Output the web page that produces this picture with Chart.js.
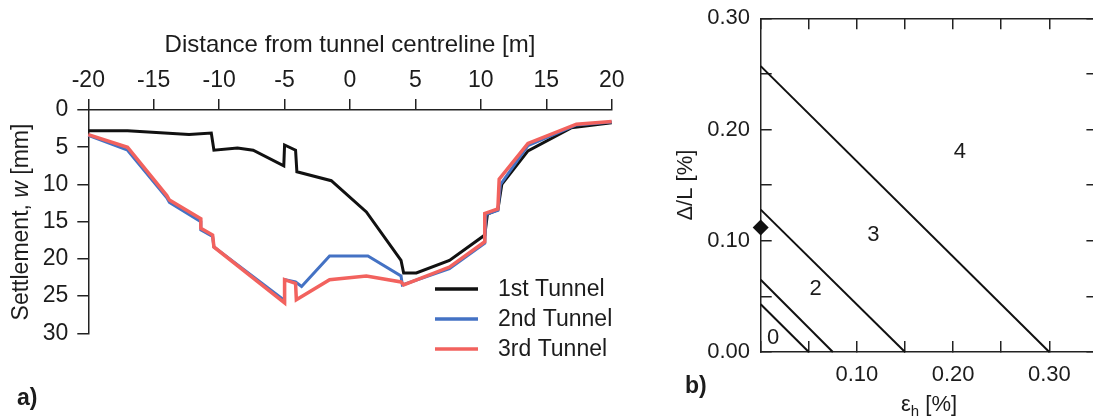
<!DOCTYPE html>
<html>
<head>
<meta charset="utf-8">
<script src="https://cdn.jsdelivr.net/npm/chart.js@4.4.0/dist/chart.umd.min.js"></script>
<style>
    html, body { margin: 0; padding: 0; background: #fff; overflow: hidden; }
    #panelA { position: absolute; left: 0; top: 0; width: 650px; height: 420px; }
    #panelB { position: absolute; left: 650px; top: 0; width: 460px; height: 420px; }
</style>
</head>
<body>
<div id="panelA"><canvas id="chartA" width="650" height="420"></canvas></div>
<div id="panelB"><canvas id="chartB" width="460" height="420"></canvas></div>
<script>
// a) settlement troughs
const seriesNames = ['1st Tunnel', '2nd Tunnel', '3rd Tunnel'];

const firstX = [-20, -17, -12.3, -10.6, -10.4, -8.6, -7.4, -5.06, -5.0, -4.16, -4.06, -1.43, 1.25, 3.9, 4.1, 5.07, 7.6, 10.3, 10.5, 11.3, 11.6, 13.6, 16.9, 20];
const firstY = [2.8, 2.8, 3.3, 3.1, 5.4, 5.1, 5.4, 7.5, 4.7, 5.4, 8.3, 9.5, 13.7, 20.2, 21.9, 21.9, 20.2, 16.8, 14.0, 13.4, 10.0, 5.5, 2.4, 1.7];

const secondX = [-20, -17, -14.0, -13.8, -11.4, -11.4, -10.5, -10.4, -5.0, -5.0, -4.16, -3.7, -1.56, 1.37, 3.9, 4.0, 7.6, 10.3, 10.4, 11.3, 11.5, 13.6, 17.3, 20];
const secondY = [3.4, 5.4, 11.8, 12.4, 15.0, 16.1, 17.0, 18.4, 25.6, 22.8, 23.1, 23.7, 19.6, 19.6, 22.3, 23.5, 21.3, 17.9, 14.0, 13.5, 10.0, 4.8, 2.0, 1.6];

const thirdX = [-20, -17, -14.0, -13.8, -11.4, -11.4, -10.5, -10.4, -5.0, -5.0, -4.16, -4.1, -1.56, 1.25, 3.9, 4.1, 7.6, 10.3, 10.3, 11.3, 11.4, 13.6, 17.3, 20];
const thirdY = [3.3, 5.0, 11.5, 12.1, 14.6, 15.9, 16.8, 18.4, 25.9, 22.8, 23.3, 25.5, 22.8, 22.3, 23.1, 23.5, 21.1, 17.7, 13.9, 13.3, 9.3, 4.5, 1.9, 1.55];

const distanceTicks = [-20, -15, -10, -5, 0, 5, 10, 15, 20];
const settlementTicks = [0, 5, 10, 15, 20, 25, 30];

// b) damage category chart
const boundaryStart = [0.043, 0.065, 0.128, 0.257];   // delta/L at eps_h = 0
const boundaryEnd = [0.05, 0.075, 0.15, 0.30];         // eps_h at delta/L = 0
const categoryNames = ['0', '2', '3', '4'];
const categoryX = [0.0128, 0.057, 0.117, 0.207];
const categoryY = [0.013, 0.057, 0.105, 0.18];
const buildingPoint = [{ x: 0, y: 0.112 }];

const FONT = "'Liberation Sans', Arial, sans-serif";
const INK = '#1c1c1c';
const AXIS = '#222';

function toPoints(xs, ys) {
    return xs.map((x, i) => ({ x: x, y: ys[i] }));
}

// fixed axis size, and no extra padding from tick labels
function fixSize(prop, size) {
    return s => {
        s[prop] = size;
        s.paddingTop = s.paddingBottom = s.paddingLeft = s.paddingRight = 0;
    };
}

const legendPlugin = {
    id: 'troughLegend',
    afterDraw(chart) {
        const ctx = chart.ctx;
        ctx.save();
        ctx.font = '23px ' + FONT;
        ctx.textBaseline = 'middle';
        chart.data.datasets.forEach((ds, i) => {
            const y = 289 + i * 30;
            ctx.strokeStyle = ds.borderColor;
            ctx.lineWidth = 3.5;
            ctx.beginPath();
            ctx.moveTo(435, y);
            ctx.lineTo(478, y);
            ctx.stroke();
            ctx.fillStyle = INK;
            ctx.fillText(ds.label, 498, y + 1);
        });

        // y title with italic w
        const parts = [['Settlement, ', ''], ['w', 'italic '], [' [mm]', '']];
        ctx.translate(22, 222);
        ctx.rotate(-Math.PI / 2);
        let total = 0;
        parts.forEach(p => { ctx.font = p[1] + '23px ' + FONT; total += ctx.measureText(p[0]).width; });
        let x = -total / 2;
        ctx.textAlign = 'left';
        parts.forEach(p => {
            ctx.font = p[1] + '23px ' + FONT;
            ctx.fillText(p[0], x, 0);
            x += ctx.measureText(p[0]).width;
        });
        ctx.restore();

        ctx.save();
        ctx.font = 'bold 23px ' + FONT;
        ctx.fillStyle = INK;
        ctx.textBaseline = 'middle';
        ctx.fillText('a)', 17, 399);
        ctx.restore();
    }
};

new Chart(document.getElementById('chartA'), {
    type: 'scatter',
    data: {
        datasets: [
            { label: seriesNames[0], data: toPoints(firstX, firstY), borderColor: '#111111', borderWidth: 3, order: 3 },
            { label: seriesNames[1], data: toPoints(secondX, secondY), borderColor: '#4472c4', borderWidth: 3, order: 2 },
            { label: seriesNames[2], data: toPoints(thirdX, thirdY), borderColor: '#f2625e', borderWidth: 3.5, order: 1 }
        ].map(ds => Object.assign(ds, { showLine: true, pointRadius: 0, tension: 0, clip: false, fill: false }))
    },
    options: {
        responsive: false,
        animation: false,
        devicePixelRatio: 1,
        events: [],
        layout: { padding: { left: 0, right: 38.3, top: 0, bottom: 86.7 } },
        plugins: { legend: { display: false }, tooltip: { enabled: false } },
        scales: {
            x: {
                type: 'linear', position: 'top', min: -20, max: 20,
                afterBuildTicks: s => { s.ticks = distanceTicks.map(v => ({ value: v })); },
                afterFit: fixSize('height', 110),
                ticks: { color: INK, font: { family: FONT, size: 23 }, padding: 5, callback: v => String(v) },
                grid: { drawOnChartArea: false, tickLength: 11, color: AXIS, lineWidth: 1.5 },
                border: { color: AXIS, width: 1.5 },
                title: { display: true, text: 'Distance from tunnel centreline [m]', color: INK,
                         font: { family: FONT, size: 24 }, padding: { top: 31, bottom: 0 } }
            },
            y: {
                type: 'linear', position: 'left', reverse: true, min: 0, max: 30,
                afterBuildTicks: s => { s.ticks = settlementTicks.map(v => ({ value: v })); },
                afterFit: fixSize('width', 88.3),
                ticks: { color: INK, font: { family: FONT, size: 23 }, padding: 9, callback: v => String(v) },
                grid: { drawOnChartArea: false, tickLength: 11, color: AXIS, lineWidth: 1.5 },
                border: { color: AXIS, width: 1.5 }
            }
        }
    },
    plugins: [legendPlugin]
});

const damagePlugin = {
    id: 'damageText',
    afterDraw(chart) {
        const ctx = chart.ctx;
        const sx = chart.scales.x, sy = chart.scales.y;
        ctx.save();
        ctx.fillStyle = INK;
        ctx.font = '22px ' + FONT;
        ctx.textAlign = 'center';
        ctx.textBaseline = 'middle';
        categoryNames.forEach((n, i) => {
            ctx.fillText(n, sx.getPixelForValue(categoryX[i]), sy.getPixelForValue(categoryY[i]));
        });

        // x title: eps with subscript h
        const main = '22px ' + FONT, sub = '15px ' + FONT;
        ctx.textAlign = 'left';
        ctx.textBaseline = 'alphabetic';
        ctx.font = main; const w1 = ctx.measureText('\u03b5').width; const w3 = ctx.measureText(' [%]').width;
        ctx.font = sub; const w2 = ctx.measureText('h').width;
        const cx = (chart.chartArea.left + chart.chartArea.right) / 2;
        let x = cx - (w1 + w2 + w3) / 2;
        const base = 411;
        ctx.font = main; ctx.fillText('\u03b5', x, base); x += w1;
        ctx.font = sub; ctx.fillText('h', x, base + 5); x += w2;
        ctx.font = main; ctx.fillText(' [%]', x, base);

        ctx.font = 'bold 23px ' + FONT;
        ctx.textBaseline = 'middle';
        ctx.fillText('b)', 35, 387);
        ctx.restore();
    }
};

const boundaryLines = boundaryStart.map((y0, i) => ({
    data: [{ x: 0, y: y0 }, { x: boundaryEnd[i], y: 0 }],
    showLine: true, borderColor: '#111', borderWidth: 2, pointRadius: 0, clip: false
}));

const pctLabel = (v, skipZero) => {
    const r = Math.round(v * 100);
    if (r % 10 !== 0 || (skipZero && r === 0)) return '';
    return (r / 100).toFixed(2);
};

const tickGrid = { drawOnChartArea: false, tickLength: -11, color: AXIS, lineWidth: 1.5 };

new Chart(document.getElementById('chartB'), {
    type: 'scatter',
    data: {
        datasets: boundaryLines.concat([{
            data: buildingPoint, pointStyle: 'rectRot', pointRadius: 8,
            backgroundColor: '#111', borderColor: '#111', borderWidth: 0, clip: false
        }])
    },
    options: {
        responsive: false,
        animation: false,
        devicePixelRatio: 1,
        events: [],
        layout: { padding: { left: 0, right: 12.6, top: 18.3, bottom: 0 } },
        plugins: { legend: { display: false }, tooltip: { enabled: false } },
        scales: {
            x: {
                type: 'linear', position: 'bottom', min: 0, max: 0.35,
                ticks: { stepSize: 0.05, color: INK, font: { family: FONT, size: 22 }, padding: 20.8,
                         maxRotation: 0, autoSkip: false, callback: v => pctLabel(v, true) },
                afterFit: fixSize('height', 68),
                grid: tickGrid,
                border: { color: AXIS, width: 1.5 }
            },
            y: {
                type: 'linear', position: 'left', min: 0, max: 0.30,
                ticks: { stepSize: 0.05, color: INK, font: { family: FONT, size: 22 }, padding: 21.7,
                         autoSkip: false, callback: v => pctLabel(v, false) },
                afterFit: fixSize('width', 110.7),
                grid: tickGrid,
                border: { color: AXIS, width: 1.5 },
                title: { display: true, text: '\u0394/L [%]', color: INK,
                         font: { family: FONT, size: 22 }, padding: { top: 23, bottom: 0 } }
            },
            x2: {
                type: 'linear', position: 'top', min: 0, max: 0.35,
                ticks: { stepSize: 0.05, display: false },
                afterFit: fixSize('height', 0),
                grid: tickGrid,
                border: { color: AXIS, width: 1.5 }
            },
            y2: {
                type: 'linear', position: 'right', min: 0, max: 0.30,
                ticks: { stepSize: 0.05, display: false },
                afterFit: fixSize('width', 0),
                grid: tickGrid,
                border: { color: AXIS, width: 1.5 }
            }
        }
    },
    plugins: [damagePlugin]
});
</script>
</body>
</html>
